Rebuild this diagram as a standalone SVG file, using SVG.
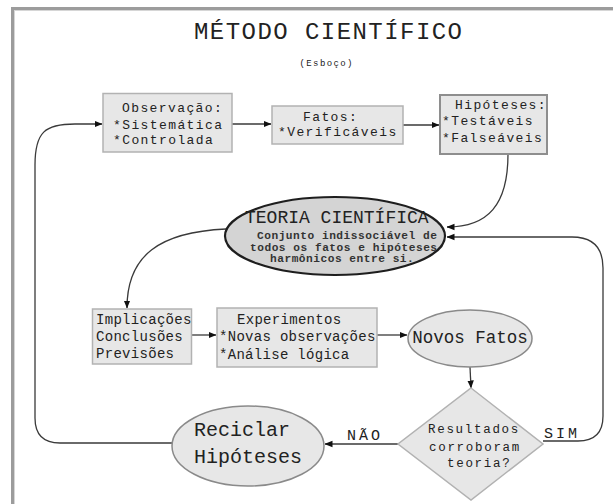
<svg xmlns="http://www.w3.org/2000/svg" width="613" height="504" viewBox="0 0 613 504">
<defs>
<marker id="arr" markerWidth="8" markerHeight="8" refX="7.5" refY="4" orient="auto" markerUnits="userSpaceOnUse">
<path d="M0,0.8 L8,4 L0,7.2 z" fill="#111"/>
</marker>
<style>
.frame{fill:#fff;stroke:#9c9c9c;stroke-width:3}
.frame2{fill:none;stroke:#d6d6d6;stroke-width:1}
.box{fill:#e7e7e7;stroke:#b2b2b2;stroke-width:1.5}
.boxd{fill:#e7e7e7;stroke:#8e8e8e;stroke-width:2}
.ell{fill:#e7e7e7;stroke:#8a8a8a;stroke-width:1.5}
.teo{fill:#d4d4d4;stroke:#1e1e1e;stroke-width:2.2}
.t{font-family:"Liberation Mono","Courier New",monospace;fill:#222}
.bt{font-size:13px;letter-spacing:1.4px}
.it{font-size:14px;letter-spacing:0.3px}
.st{font-size:11.2px;letter-spacing:0.5px;font-weight:bold;fill:#333}
.big{font-size:17.5px}
.rec{font-size:20px}
.dt{font-size:12.5px;letter-spacing:1.7px}
.lab{font-size:15px;letter-spacing:3px}
.c{fill:none;stroke:#3a3a3a;stroke-width:1.3;marker-end:url(#arr)}
</style>
</defs>
<rect class="frame" x="12.5" y="8.5" width="700" height="600"/>
<rect class="frame2" x="14.5" y="10.5" width="700" height="600"/>
<g id="title">
<text class="t" x="328" y="39" font-size="24" text-anchor="middle" textLength="268" lengthAdjust="spacing">MÉTODO CIENTÍFICO</text>
<text class="t" x="326" y="66" font-size="9" text-anchor="middle" textLength="53" lengthAdjust="spacing">(Esboço)</text>
</g>
<g id="connectors">
<path class="c" d="M172,443 L60,443 Q35,443 35,418 L35,165 C35,132 45,124 75,124 L102,124"/>
<path class="c" d="M232,124 L271,124"/>
<path class="c" d="M403,125 L439,125"/>
<path class="c" d="M508,154 C508,205 488,227 447,227"/>
<path class="c" d="M226,229 C160,232 127,255 127,308"/>
<path class="c" d="M192,335 L216,335"/>
<path class="c" d="M377,335 L407,335"/>
<path class="c" d="M470,367 L471,388"/>
<path class="c" d="M398,444 L325,444"/>
<path class="c" d="M543,441 L578,441 Q603,441 603,416 L603,268 Q603,237 572,237 L447,237"/>
<text class="t lab" x="347" y="440">NÃO</text>
<text class="t lab" x="544" y="438">SIM</text>
</g>
<g id="observacao">
<rect class="box" x="103" y="93.5" width="129" height="58.5"/>
<text class="t bt" x="122" y="111.5">Observação:</text>
<text class="t bt" x="113" y="128.5">*Sistemática</text>
<text class="t bt" x="113" y="143.5">*Controlada</text>
</g>
<g id="fatos">
<rect class="box" x="272" y="106" width="131" height="38"/>
<text class="t bt" x="303" y="121">Fatos:</text>
<text class="t bt" x="278" y="136">*Verificáveis</text>
</g>
<g id="hipoteses">
<rect class="boxd" x="440" y="95" width="107" height="59"/>
<text class="t bt" x="455" y="108.5">Hipóteses:</text>
<text class="t bt" x="442" y="124.5">*Testáveis</text>
<text class="t bt" x="442" y="142">*Falseáveis</text>
</g>
<g id="teoria">
<ellipse class="teo" cx="335" cy="236" rx="110" ry="39"/>
<text class="t" x="245" y="223" font-size="18">TEORIA CIENTÍFICA</text>
<text class="t st" x="257" y="238.5">Conjunto indissociável de</text>
<text class="t st" x="250" y="250.5">todos os fatos e hipóteses</text>
<text class="t st" x="270" y="261.5">harmônicos entre si.</text>
</g>
<g id="implicacoes">
<rect class="box" x="92.5" y="309" width="99" height="55"/>
<text class="t it" x="96" y="323.5">Implicações</text>
<text class="t it" x="96" y="340.5">Conclusões</text>
<text class="t it" x="96" y="357.5">Previsões</text>
</g>
<g id="experimentos">
<rect class="box" x="217" y="308" width="160" height="59"/>
<text class="t it" x="237" y="324">Experimentos</text>
<text class="t it" x="219" y="341">*Novas observações</text>
<text class="t it" x="219" y="359">*Análise lógica</text>
</g>
<g id="novosfatos">
<ellipse class="ell" cx="470" cy="338.5" rx="62" ry="28.5"/>
<text class="t big" x="470" y="343" text-anchor="middle">Novos Fatos</text>
</g>
<g id="decisao">
<polygon class="box" points="471,388 543,444 471,500 398,444"/>
<text class="t dt" x="428" y="433">Resultados</text>
<text class="t dt" x="429" y="451">corroboram</text>
<text class="t dt" x="447" y="467">teoria?</text>
</g>
<g id="reciclar">
<ellipse class="ell" cx="248" cy="446" rx="76" ry="40"/>
<text class="t rec" x="194" y="436">Reciclar</text>
<text class="t rec" x="194" y="463">Hipóteses</text>
</g>
</svg>
